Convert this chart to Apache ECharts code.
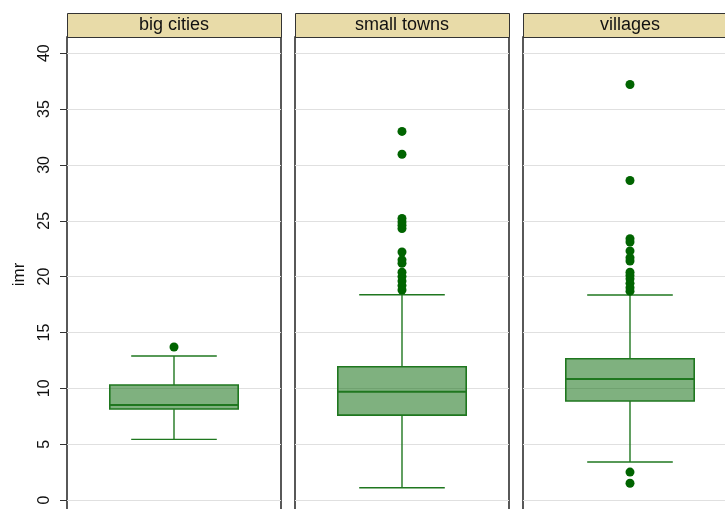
<!DOCTYPE html>
<html>
<head>
<meta charset="utf-8">
<script src="https://cdn.jsdelivr.net/npm/echarts@6/dist/echarts.min.js"></script>
<style>
  html, body { margin: 0; padding: 0; overflow: hidden; background: #fff; }
  #chart { width: 745px; height: 520px; }
</style>
</head>
<body>
<div id="chart"></div>
<script>
// groups (one panel each)
const groups = ['big cities', 'small towns', 'villages'];
// [lower whisker, q1, median, q3, upper whisker]
const boxStats = [
    [5.43, 8.15, 8.5, 10.3, 12.9],
    [1.1, 7.6, 9.7, 11.93, 18.38],
    [3.4, 8.86, 10.83, 12.65, 18.35]
];
// outside values
const outliers = [
    [13.7],
    [33.0, 30.95, 25.2, 24.9, 24.6, 24.3, 22.2, 21.5, 21.2, 20.4, 20.0, 19.6, 19.2, 18.8],
    [37.2, 28.6, 23.4, 23.1, 22.3, 21.7, 21.4, 20.4, 20.1, 19.8, 19.4, 19.0, 18.7, 2.5, 1.5]
];
const yTicks = [0, 5, 10, 15, 20, 25, 30, 35, 40];

const chart = echarts.init(document.getElementById('chart'));

const panelLeft = 67, panelW = 214, panelGap = 14, plotTop = 37, stripH = 24;
const lineCol = '#1f771f', fillCol = 'rgba(0,100,0,0.5)', dotCol = '#006400';

function renderBox(params, api) {
    const xc = api.value(0);
    const bw = api.size([1, 0])[0];
    const x = api.coord([xc, 0])[0];
    const y = [1, 2, 3, 4, 5].map(k => api.coord([xc, api.value(k)])[1]);
    const bh = bw * 0.3, ch = bw * 0.2;
    const ls = { stroke: lineCol, lineWidth: 1.4 };
    return {
        type: 'group',
        children: [
            { type: 'line', shape: { x1: x, y1: y[0], x2: x, y2: y[1] }, style: ls },
            { type: 'line', shape: { x1: x, y1: y[3], x2: x, y2: y[4] }, style: ls },
            { type: 'line', shape: { x1: x - ch, y1: y[0], x2: x + ch, y2: y[0] }, style: ls },
            { type: 'line', shape: { x1: x - ch, y1: y[4], x2: x + ch, y2: y[4] }, style: ls },
            { type: 'rect', shape: { x: x - bh, y: y[3], width: bh * 2, height: y[1] - y[3] },
              style: { fill: fillCol, stroke: lineCol, lineWidth: 1.6 } },
            { type: 'line', shape: { x1: x - bh, y1: y[2], x2: x + bh, y2: y[2] },
              style: { stroke: lineCol, lineWidth: 2 } }
        ]
    };
}

const grids = [], xAxes = [], yAxes = [], series = [], graphics = [];
groups.forEach((g, i) => {
    const left = panelLeft + i * (panelW + panelGap);
    grids.push({ left: left, width: panelW, top: plotTop, bottom: 8,
                 show: true, borderColor: '#000', borderWidth: 1.3, backgroundColor: '#fff' });
    xAxes.push({ gridIndex: i, type: 'category', data: [g], show: false });
    yAxes.push({
        gridIndex: i, type: 'value', min: -1.07, max: 41.45,
        name: i === 0 ? 'imr' : '', nameLocation: 'middle', nameGap: 39,
        nameTextStyle: { fontFamily: 'Liberation Sans', fontSize: 17, color: '#111' },
        axisLine: { show: false },
        axisTick: { show: i === 0, length: 7, customValues: yTicks, lineStyle: { color: '#333' } },
        axisLabel: { show: i === 0, customValues: yTicks, rotate: 90, margin: 14,
                     fontFamily: 'Liberation Sans', fontSize: 16, color: '#111' },
        splitLine: { show: true, lineStyle: { color: '#e0e0e0', width: 1 } }
    });
    series.push({
        type: 'custom', xAxisIndex: i, yAxisIndex: i,
        renderItem: renderBox,
        encode: { x: 0, y: [1, 2, 3, 4, 5] },
        data: [[g].concat(boxStats[i])]
    });
    series.push({
        type: 'scatter', xAxisIndex: i, yAxisIndex: i,
        symbolSize: 9, itemStyle: { color: dotCol, opacity: 1 },
        data: outliers[i].map(v => [g, v])
    });
    graphics.push({
        type: 'rect', left: left, top: plotTop - stripH,
        shape: { width: panelW, height: stripH },
        style: { fill: '#e8dba8', stroke: '#333', lineWidth: 1 }
    });
    graphics.push({
        type: 'text', x: left + panelW / 2, y: plotTop - stripH / 2,
        style: { text: g, fill: '#111', font: '18px "Liberation Sans"',
                 textAlign: 'center', textVerticalAlign: 'middle' }
    });
});

chart.setOption({
    animation: false,
    backgroundColor: '#fff',
    grid: grids,
    xAxis: xAxes,
    yAxis: yAxes,
    series: series,
    graphic: graphics
});
</script>
</body>
</html>
